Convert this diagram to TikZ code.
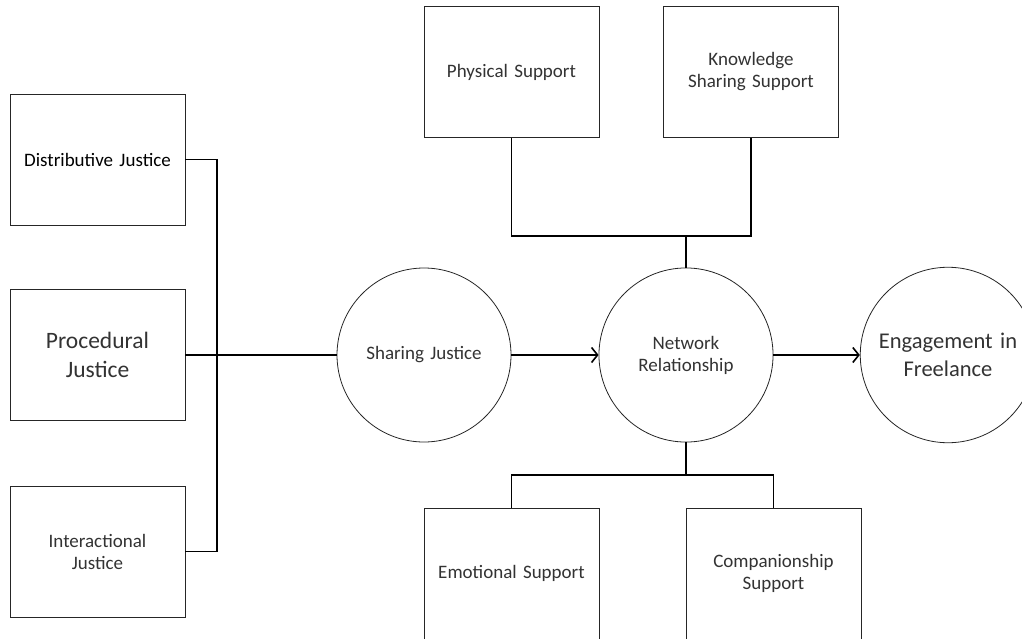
\documentclass[tikz,border=0pt]{standalone}
\usepackage{fontspec}
\setmainfont{Carlito}
\usetikzlibrary{positioning}
\usetikzlibrary{arrows.meta}

\begin{document}
\begin{tikzpicture}[x=1pt, y=-1pt, >={Straight Barb[length=6pt, width=15pt]}, font=\fontsize{19}{22}\selectfont]
    \tikzstyle{block}=[draw=black!85, line width=0.8pt, rectangle, fill=white, minimum width=175pt, minimum height=131pt, inner sep=0pt, text width=170pt, align=center, text=black!80]
    \tikzstyle{factor}=[draw=black!85, line width=0.8pt, circle, fill=white, minimum size=174pt, inner sep=0pt, text width=170pt, align=center, text=black!80]
    \tikzstyle{link}=[draw=black, line width=1.6pt]
    \tikzstyle{big}=[font=\fontsize{23.5}{29}\selectfont]

    \useasboundingbox (0,0) rectangle (1022,639);

    % justice dimensions
    \node[block, text=black] (dist) at (97.5,159.5) {Distributive Justice};
    \node[block, big] (proc) at (97.5,355) {Procedural\\Justice};
    \node[block] (inter) at (97.5,551.5) {Interactional\\Justice};

    % main chain
    \node[factor] (share) at (424,355) {Sharing Justice};
    \node[factor] (net) at (686,355) {Network\\Relationship};
    \node[factor, font=\fontsize{22.5}{28}\selectfont] (engage) at (948,355) {Engagement in\\Freelance};

    % support types
    \node[block] (phys) at (511.5,72) {Physical Support};
    \node[block] (know) at (751,72) {Knowledge\\Sharing Support};
    \node[block] (emo) at (511.5,573.5) {Emotional Support};
    \node[block] (comp) at (773.5,573.5) {Companionship\\Support};

    \coordinate (jn) at (217,355);
    \coordinate (top) at (686,236);
    \coordinate (bot) at (686,475);

    \draw[link] (dist.east) -| (jn) |- (inter.east);
    \draw[link] (proc.east) -- (share.west);
    \draw[link, ->] (share.east) -- (net.west);
    \draw[link, ->] (net.east) -- (engage.west);

    \draw[link] (phys.south) |- (top) -| (know.south);
    \draw[link] (top) -- (net.north);
    \draw[link] (net.south) -- (bot);
    \draw[link] (emo.north) |- (bot) -| (comp.north);
\end{tikzpicture}
\end{document}
